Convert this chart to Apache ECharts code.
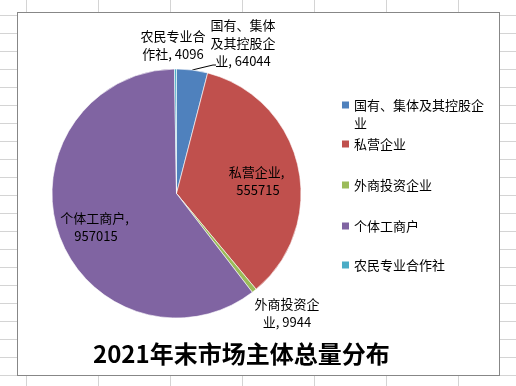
<!DOCTYPE html>
<html>
<head>
<meta charset="utf-8">
<script src="https://cdn.jsdelivr.net/npm/echarts@6/dist/echarts.min.js"></script>
<style>
  html, body { margin: 0; padding: 0; }
  body {
    width: 516px; height: 386px; overflow: hidden; position: relative;
    background-color: #fff;
    background-image:
      linear-gradient(to right, #d4d4d4 1px, transparent 1px),
      linear-gradient(to bottom, #d4d4d4 1px, transparent 1px);
    background-size: 72px 18px;
    background-position: 26px 15px;
  }
  #frame {
    position: absolute; left: 17px; top: 12px; width: 483px; height: 364px;
    box-sizing: border-box; border: 1px solid #878787; background: #fff;
  }
  #chart { position: absolute; left: 0; top: 0; width: 516px; height: 386px; }
</style>
</head>
<body>
<div id="frame"></div>
<div id="chart"></div>
<script>
// ---- data ----
const categories = ['国有、集体及其控股企业', '私营企业', '外商投资企业', '个体工商户', '农民专业合作社'];
const values = [64044, 555715, 9944, 957015, 4096];
const titleText = '2021年末市场主体总量分布';

// ---- styles ----
const colors = ['#4F81BD', '#C0504D', '#9BBB59', '#8064A2', '#4BACC6'];
const labelWidths = [66, 62, 66, 72, 66];
const labelPos = [[243, 43.5], [258, 181], [287, 313], [96, 227], [173, 45.5]];
const legendTops = [96, 135, 176, 217, 256];
const legendMaxChars = 10;
const FONT = '"Noto Sans CJK SC", "Noto Sans", sans-serif';

const chart = echarts.init(document.getElementById('chart'), null, { renderer: 'canvas' });

function wrapLegend(name) {
  let out = '';
  for (let k = 0; k < name.length; k += legendMaxChars) {
    out += (k ? '\n' : '') + name.slice(k, k + legendMaxChars);
  }
  return out;
}

const pieData = categories.map((name, i) => ({
  name: name,
  value: values[i],
  itemStyle: { color: colors[i] },
  label: { width: labelWidths[i] },
  labelLine: { show: i === 0 }
}));

// square marker; for the two-line first item the marker sits beside its first line
const legends = categories.map((name, i) => ({
  data: [name],
  orient: 'vertical',
  left: 342,
  top: legendTops[i],
  padding: 0,
  icon: i === 0 ? 'path://M0,0L7,0L7,7L0,7ZM0,25L0,25' : 'rect',
  itemWidth: 7,
  itemHeight: i === 0 ? 25 : 7,
  itemStyle: { borderWidth: 0 },
  selectedMode: false,
  formatter: wrapLegend,
  textStyle: { color: '#000', fontSize: 13, lineHeight: 18, fontFamily: FONT }
}));

chart.setOption({
  animation: false,
  color: colors,
  title: {
    text: titleText,
    left: 93,
    top: 342,
    padding: 0,
    textStyle: { color: '#000', fontSize: 24, fontWeight: 'bold', fontFamily: FONT }
  },
  legend: legends,
  series: [{
    type: 'pie',
    center: [176.5, 193.5],
    radius: 124.5,
    startAngle: 90,
    clockwise: true,
    avoidLabelOverlap: false,
    itemStyle: { borderColor: '#ffffff', borderWidth: 0.6 },
    label: {
      show: true,
      position: 'outside',
      formatter: '{b}, {c}',
      color: '#000',
      fontSize: 13,
      lineHeight: 18,
      fontFamily: FONT,
      overflow: 'break',
      align: 'center'
    },
    labelLine: {
      show: false,
      length: 10,
      length2: 5,
      lineStyle: { color: '#000', width: 1 }
    },
    labelLayout: function (params) {
      const i = params.dataIndex;
      const p = labelPos[i];
      const out = { x: p[0], y: p[1], align: 'center', verticalAlign: 'middle' };
      if (i === 0) {
        const start = (params.labelLinePoints && params.labelLinePoints[0]) || [192, 70];
        out.labelLinePoints = [start, [213, 65], [216, 65]];
      }
      return out;
    },
    data: pieData
  }]
});
</script>
</body>
</html>
